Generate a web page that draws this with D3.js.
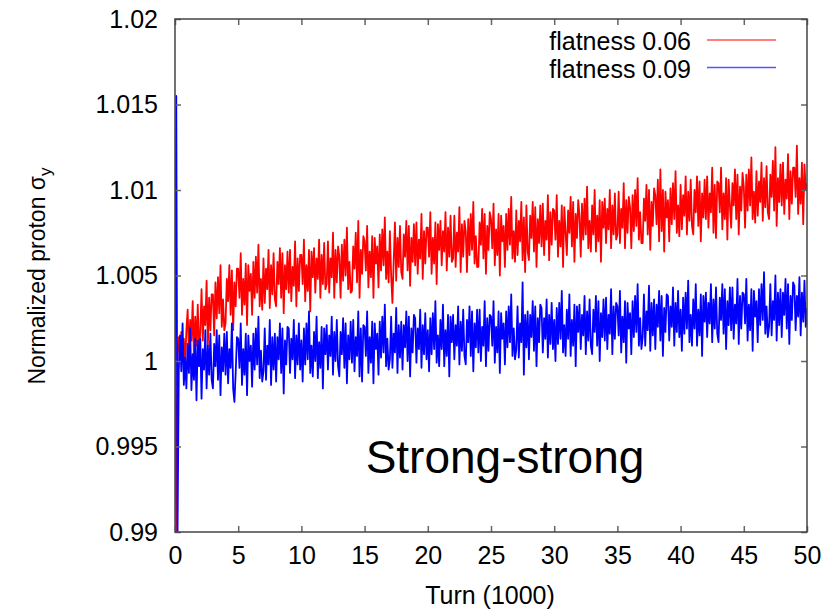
<!DOCTYPE html>
<html>
<head>
<meta charset="utf-8">
<script src="https://cdn.jsdelivr.net/npm/d3@7"></script>
<style>
  body { margin: 0; background: #fff; }
  text { font-family: "Liberation Sans", Arial, sans-serif; fill: #000; }
</style>
</head>
<body>
<script>
//chart values

//x axis: turns in units of 1000, one sample every 0.1k turns
var turnStep = 0.1;
var xTicks = [0, 5, 10, 15, 20, 25, 30, 35, 40, 45, 50];
var yTicks = [0.99, 0.995, 1, 1.005, 1.01, 1.015, 1.02];
var yTickLabels = ["0.99", "0.995", "1", "1.005", "1.01", "1.015", "1.02"];

//start-up transient near turn 0, [turn, sigma]
var redStart = [[0, 1.0000], [0.1, 0.9900], [0.2, 1.0005]];
var blueStart = [[0, 1.0000], [0.1, 1.0155], [0.2, 0.9900], [0.3, 0.9995]];

//normalized sigma_y stored as deviation from 1 in units of 1e-4 (sigma = 1 + dev/1e4)
//flatness 0.06, one row per 1k turns
var redDev = [
  4,12,-3,14,0,17,3,13,-2,18,
  30,4,24,12,35,1,26,9,33,6,
  17,42,12,32,21,47,9,37,18,39,
  39,15,46,25,49,28,56,20,36,18,
  22,48,35,56,27,53,18,46,32,54,
  54,37,63,27,48,33,57,21,56,41,
  51,27,58,37,61,40,68,32,48,30,
  60,34,54,42,65,31,56,39,63,36,
  32,58,45,66,37,63,28,56,42,64,
  40,65,35,55,44,70,32,60,41,62,
  62,45,71,35,56,41,65,29,64,49,
  66,40,60,48,71,37,62,45,69,42,
  45,70,40,60,49,75,37,65,46,67,
  61,37,68,47,71,50,78,42,58,40,
  41,67,54,75,46,82,37,65,51,73,
  70,53,79,43,64,49,73,37,72,57,
  67,43,74,53,77,56,84,48,64,46,
  76,50,34,58,81,47,72,55,79,52,
  48,74,61,82,53,79,44,72,58,80,
  56,81,51,71,60,86,48,76,57,78,
  78,61,87,51,72,57,81,45,80,65,
  82,56,76,64,87,53,78,61,85,58,
  60,85,55,75,64,90,52,80,61,82,
  76,52,83,62,86,65,93,57,73,55,
  55,81,68,89,60,86,51,79,65,87,
  83,66,92,56,77,62,86,50,85,70,
  79,55,86,65,89,68,96,60,76,58,
  88,62,82,70,93,59,84,52,91,64,
  59,85,72,93,64,90,55,83,69,91,
  67,92,62,82,71,97,59,87,68,89,
  88,71,97,61,82,67,91,55,90,75,
  62,88,75,96,67,93,58,86,72,94,
  85,61,92,71,95,74,102,66,82,64,
  91,74,100,64,85,70,94,58,93,78,
  95,69,89,77,100,66,91,74,98,71,
  74,99,69,89,78,104,66,94,75,96,
  90,66,97,76,100,79,107,71,87,69,
  69,95,82,103,74,100,65,93,79,101,
  97,80,106,70,112,76,100,64,99,84,
  94,70,101,80,104,83,111,75,91,73,
  103,77,97,85,108,74,99,82,106,79,
  74,100,87,108,79,105,70,98,84,106,
  83,108,78,98,87,113,75,103,72,105,
  104,87,113,77,98,83,107,71,106,91,
  78,104,91,112,83,109,74,102,88,110,
  102,78,109,88,112,91,119,83,99,81,
  111,85,105,93,116,82,107,90,114,87,
  83,109,96,117,88,125,79,107,93,115,
  91,116,86,106,95,121,83,111,92,113,
  113,96,126,86,107,92,116,80,115,100,
  104
];

//flatness 0.09, one row per 1k turns
var blueDev = [
  5,-19,12,-9,15,-6,22,-14,2,-16,
  10,-7,19,-17,4,-11,13,-23,12,-3,
  13,-22,7,-5,18,-16,9,-8,16,-11,
  -16,10,-3,18,-11,15,-20,8,-6,16,
  -8,17,-13,7,-4,22,-16,-24,-7,14,
  13,-4,22,-14,7,-8,16,-20,15,0,
  9,-15,16,-5,19,-2,26,-10,6,-12,
  -6,19,-11,9,-2,24,-14,14,-5,16,
  -12,14,1,22,-7,19,-19,12,-2,20,
  19,-7,13,1,24,-10,15,-2,22,-5,
  12,-12,19,-2,22,1,29,-7,9,-9,
  17,0,26,-10,11,-4,20,-16,19,4,
  21,-5,15,3,26,-8,17,0,24,-3,
  -9,17,4,25,-4,22,-13,15,1,23,
  -1,24,-6,14,3,29,-9,19,-12,21,
  20,3,29,-7,14,-1,23,-13,22,7,
  16,-8,23,2,26,5,33,-3,13,-5,
  1,26,-4,16,5,31,-7,21,2,23,
  -5,21,8,29,0,26,-9,19,5,27,
  25,-1,19,7,30,-4,21,4,28,1,
  18,-6,25,4,28,7,35,-1,15,-3,
  24,7,33,-3,18,3,27,-9,26,11,
  27,1,21,9,32,-2,23,6,30,3,
  -2,24,11,32,3,29,-6,22,8,30,
  5,30,0,20,9,35,-3,25,6,27,
  26,9,35,-1,20,5,29,-7,28,13,
  22,-2,29,8,32,11,39,3,19,1,
  7,32,2,22,11,46,-8,27,8,29,
  1,27,14,35,6,32,-3,25,11,33,
  31,5,25,13,36,2,27,10,34,7,
  24,0,31,10,34,13,41,5,21,3,
  30,13,39,3,24,9,33,-3,32,17,
  33,7,27,15,38,4,29,12,36,9,
  4,30,17,38,9,35,0,28,14,36,
  12,37,7,27,16,42,4,32,13,34,
  32,15,41,5,26,11,35,-1,34,19,
  28,4,35,14,38,17,45,9,25,7,
  14,39,9,29,18,44,6,34,15,36,
  7,33,20,41,12,38,3,31,17,39,
  38,12,32,20,43,9,34,17,41,14,
  30,6,37,16,40,19,47,11,27,9,
  36,19,45,9,30,15,39,3,38,23,
  40,14,34,22,45,11,36,19,43,16,
  11,37,24,45,16,42,7,35,21,43,
  18,43,13,33,22,48,10,38,19,40,
  39,22,48,12,33,18,42,6,41,26,
  35,11,42,21,45,24,52,16,32,14,
  20,45,15,35,24,50,12,40,21,42,
  14,40,27,48,19,45,10,38,24,46,
  44,18,38,26,49,15,40,23,47,20,
  31
];

var seriesNames = ["flatness 0.06", "flatness 0.09"];
var seriesColors = ["#ff0000", "#0000ff"];
var legendColors = ["#ff5555", "#5555ff"];

//frame
var width = 827;
var height = 613;
var plot = {left: 175, right: 807, top: 19, bottom: 532};

var svg = d3.select("body")
    .append("svg")
    .attr("width", width)
    .attr("height", height);

var x = d3.scaleLinear()
    .domain([0, 50])
    .range([plot.left, plot.right]);

var y = d3.scaleLinear()
    .domain([0.99, 1.02])
    .range([plot.bottom, plot.top]);

svg.append("clipPath")
    .attr("id", "clip")
    .append("rect")
    .attr("x", plot.left)
    .attr("y", plot.top)
    .attr("width", plot.right - plot.left)
    .attr("height", plot.bottom - plot.top);

//turn the stored values into [turn, sigma] points
function toPoints(start, dev){
    var pts = start.slice();
    var lastStart = start[start.length - 1][0];
    dev.forEach(function(v, i){
        var t = i * turnStep;
        if(t > lastStart + 1e-9) pts.push([t, 1 + v / 1e4]);
    });
    return pts;
}

var line = d3.line()
    .x(function(d){ return x(d[0]); })
    .y(function(d){ return y(d[1]); });

var series = [toPoints(redStart, redDev), toPoints(blueStart, blueDev)];

svg.append("g")
    .attr("clip-path", "url(#clip)")
    .selectAll(".series")
    .data(series)
    .enter()
    .append("path")
    .attr("class", "series")
    .attr("d", line)
    .style("fill", "none")
    .style("stroke", function(d, i){ return seriesColors[i]; })
    .style("stroke-width", "1.8px")
    .style("stroke-linejoin", "round");

//axes, ticks point inward on all four sides
var tickLen = 6;
var bottomAxis = d3.axisBottom(x).tickValues(xTicks).tickSize(-tickLen).tickPadding(14).tickFormat(d3.format("d"));
var topAxis = d3.axisTop(x).tickValues(xTicks).tickSize(-tickLen).tickFormat("");
var leftAxis = d3.axisLeft(y).tickValues(yTicks).tickSize(-tickLen).tickPadding(17)
    .tickFormat(function(d, i){ return yTickLabels[i]; });
var rightAxis = d3.axisRight(y).tickValues(yTicks).tickSize(-tickLen).tickFormat("");

function styleAxis(g){
    g.select(".domain").remove();
    g.selectAll(".tick line").style("stroke", "#666").style("stroke-width", "1.5px");
    g.selectAll(".tick text")
        .style("font-family", "'Liberation Sans', Arial, sans-serif")
        .style("font-size", "25px")
        .style("fill", "#000");
}

svg.append("g").attr("transform", "translate(0," + plot.bottom + ")").call(bottomAxis).call(styleAxis);
svg.append("g").attr("transform", "translate(0," + plot.top + ")").call(topAxis).call(styleAxis);
svg.append("g").attr("transform", "translate(" + plot.left + ",0)").call(leftAxis).call(styleAxis);
svg.append("g").attr("transform", "translate(" + plot.right + ",0)").call(rightAxis).call(styleAxis);

//border
svg.append("rect")
    .attr("x", plot.left)
    .attr("y", plot.top)
    .attr("width", plot.right - plot.left)
    .attr("height", plot.bottom - plot.top)
    .style("fill", "none")
    .style("stroke", "#444")
    .style("stroke-width", "1.5px");

//axis titles
svg.append("text")
    .attr("x", 490)
    .attr("y", 604)
    .attr("text-anchor", "middle")
    .style("font-size", "25px")
    .text("Turn (1000)");

var yTitle = svg.append("text")
    .attr("transform", "translate(45,276) rotate(-90)")
    .attr("text-anchor", "middle")
    .style("font-size", "23px");
yTitle.append("tspan").text("Normalized proton σ");
yTitle.append("tspan").attr("dy", 6).style("font-size", "17px").text("y");

//legend
var legend = svg.selectAll(".legend")
    .data(seriesNames)
    .enter()
    .append("g")
    .attr("class", "legend")
    .attr("transform", function(d, i){ return "translate(0," + (40 + i * 27.5) + ")"; });

legend.append("text")
    .attr("x", 691)
    .attr("y", 10)
    .attr("text-anchor", "end")
    .style("font-size", "25px")
    .text(function(d){ return d; });

legend.append("line")
    .attr("x1", 707)
    .attr("x2", 776)
    .attr("y1", 0)
    .attr("y2", 0)
    .style("stroke", function(d, i){ return legendColors[i]; })
    .style("stroke-width", "1.5px");

//annotation
svg.append("text")
    .attr("x", 505)
    .attr("y", 473)
    .attr("text-anchor", "middle")
    .style("font-size", "46px")
    .text("Strong-strong");
</script>
</body>
</html>
